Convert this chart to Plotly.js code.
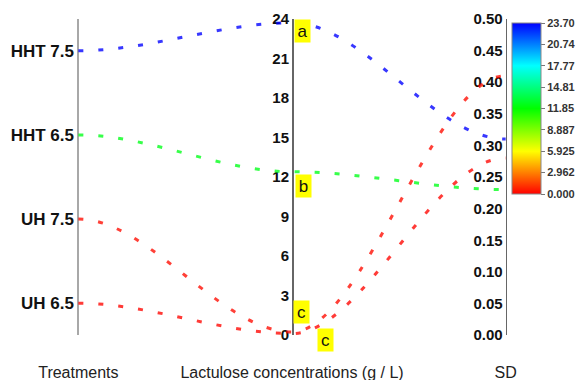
<!DOCTYPE html>
<html>
<head>
<meta charset="utf-8">
<script src="https://cdn.plot.ly/plotly-3.0.1.min.js"></script>
<style>html,body{margin:0;padding:0;background:#fff}#chart{width:584px;height:380px}</style>
</head>
<body>
<div id="chart"></div>
<script>
// ---- data ----
const dimensions = ['Treatments', 'Lactulose concentrations (g / L)', 'SD'];
const treatments = ['HHT 7.5', 'HHT 6.5', 'UH 7.5', 'UH 6.5'];
const lactulose = [23.70, 12.40, 0.25, 0.12];
const sd = [0.31, 0.23, 0.41, 0.28];
const sigLetters = ['a', 'b', 'c', 'c'];
const treatmentOrder = ['UH 6.5', 'UH 7.5', 'HHT 6.5', 'HHT 7.5'];
const lactuloseTicks = [0, 3, 6, 9, 12, 15, 18, 21, 24];
const sdTicks = [0, 0.05, 0.10, 0.15, 0.20, 0.25, 0.30, 0.35, 0.40, 0.45, 0.50];
const colorbarTicks = [0, 2.962, 5.925, 8.887, 11.85, 14.81, 17.77, 20.74, 23.70];
const colorbarTickText = ['0.000', '2.962', '5.925', '8.887', '11.85', '14.81', '17.77', '20.74', '23.70'];

// ---- styles / layout ----
const FONT = 'Liberation Sans, Arial, sans-serif';
const TREAT_RANGE = [-0.38, 3.38];
const LAC_RANGE = [0, 24];
const SD_RANGE = [0, 0.5];
const NORM_RANGE = [-0.05, 1.05];
const X_RANGE = [-0.1, 2.1];
const AX_DOMAIN = [(0 - NORM_RANGE[0]) / (NORM_RANGE[1] - NORM_RANGE[0]), (1 - NORM_RANGE[0]) / (NORM_RANGE[1] - NORM_RANGE[0])];
const axPos = i => (i - X_RANGE[0]) / (X_RANGE[1] - X_RANGE[0]);
const CMAX = 23.70;
const CURVE_K = 1 / 3;
const jet = [[0, '#ff0000'], [0.125, '#ff8000'], [0.25, '#ffff00'], [0.375, '#80ff00'], [0.5, '#00ff00'],
             [0.625, '#00ff80'], [0.75, '#00ffff'], [0.875, '#0080ff'], [1, '#0000ff']];
const letterShift = [[10, -8], [11, -14], [9, 20], [33, -6]];

function norm(v, r) { return (v - r[0]) / (r[1] - r[0]); }
function hex2rgb(h) { return [1, 3, 5].map(i => parseInt(h.substr(i, 2), 16)); }
function jetColor(v) {
  const t = Math.max(0, Math.min(1, v / CMAX));
  for (let i = 1; i < jet.length; i++) {
    if (t <= jet[i][0]) {
      const f = (t - jet[i - 1][0]) / (jet[i][0] - jet[i - 1][0]);
      const a = hex2rgb(jet[i - 1][1]), b = hex2rgb(jet[i][1]);
      const c = a.map((x, k) => Math.round(x + (b[k] - x) * f));
      return 'rgb(' + c.join(',') + ')';
    }
  }
  return jet[jet.length - 1][1];
}

const traces = [];
// data points on each parallel axis (invisible markers; they also carry the colour scale)
traces.push({ type: 'scatter', mode: 'markers', x: treatments.map(() => 0), y: treatments, yaxis: 'y2',
  marker: { size: 1, opacity: 0 }, hoverinfo: 'skip', showlegend: false });
traces.push({ type: 'scatter', mode: 'markers', x: lactulose.map(() => 1), y: lactulose, yaxis: 'y3',
  marker: { size: 1, opacity: 0, color: lactulose, cmin: 0, cmax: CMAX, colorscale: jet, showscale: true,
    colorbar: { x: (512 - 57) / 470, xanchor: 'left', xpad: 0, y: (351 - 23) / 348, yanchor: 'top', ypad: 0,
      len: 171, lenmode: 'pixels', thickness: 29, thicknessmode: 'pixels',
      outlinewidth: 1, outlinecolor: '#888', ticks: 'outside', ticklen: 4, tickcolor: '#777',
      tickvals: colorbarTicks, ticktext: colorbarTickText,
      tickfont: { family: FONT, size: 11, weight: 'bold', color: '#333' } } },
  hoverinfo: 'skip', showlegend: false });
traces.push({ type: 'scatter', mode: 'markers', x: sd.map(() => 2), y: sd, yaxis: 'y4',
  marker: { size: 1, opacity: 0 }, hoverinfo: 'skip', showlegend: false });

// profile curves: smooth connectors between the axes, in the plot's data coordinates
const shapes = treatments.map((t, i) => {
  const ys = [norm(treatmentOrder.indexOf(t), TREAT_RANGE), norm(lactulose[i], LAC_RANGE), norm(sd[i], SD_RANGE)];
  let d = 'M 0,' + ys[0];
  for (let k = 1; k < ys.length; k++) {
    d += ' C ' + (k - 1 + CURVE_K) + ',' + ys[k - 1] + ' ' + (k - CURVE_K) + ',' + ys[k] + ' ' + k + ',' + ys[k];
  }
  return { type: 'path', path: d, xref: 'x', yref: 'y', layer: 'above', opacity: 0.78,
    line: { color: jetColor(lactulose[i]), width: 3, dash: '5px,15px' } };
});

const baseAxis = { anchor: 'free', domain: AX_DOMAIN, showgrid: false, zeroline: false, showline: true, fixedrange: true };

const layout = {
  width: 584, height: 380,
  margin: { l: 57, r: 57, t: 3, b: 29 },
  paper_bgcolor: '#fff', plot_bgcolor: 'rgba(0,0,0,0)',
  hovermode: false, showlegend: false,
  xaxis: { range: X_RANGE, showgrid: false, zeroline: false, showline: false, fixedrange: true,
    tickvals: [0, 1, 2], ticktext: dimensions, ticks: 'outside', ticklen: 7, tickcolor: 'rgba(0,0,0,0)',
    tickfont: { family: FONT, size: 16, color: '#222' } },
  yaxis: { range: NORM_RANGE, visible: false, fixedrange: true },
  yaxis2: Object.assign({}, baseAxis, { type: 'category', categoryorder: 'array', categoryarray: treatmentOrder,
    range: TREAT_RANGE, position: axPos(0), linecolor: '#a8a8a8', linewidth: 2, ticks: '',
    tickfont: { family: FONT, size: 17, weight: 'bold', color: '#111' } }),
  yaxis3: Object.assign({}, baseAxis, { range: LAC_RANGE, position: axPos(1), linecolor: '#666', linewidth: 1.5,
    tickvals: lactuloseTicks, ticks: '', tickfont: { family: FONT, size: 15, weight: 'bold', color: '#111' } }),
  yaxis4: Object.assign({}, baseAxis, { range: SD_RANGE, position: axPos(2), linecolor: '#666', linewidth: 1.5,
    tickvals: sdTicks, tickformat: '.2f', ticks: '', tickfont: { family: FONT, size: 15, weight: 'bold', color: '#111' } }),
  shapes: shapes,
  annotations: sigLetters.map((s, i) => ({
    text: s, xref: 'x', yref: 'y3', x: 1, y: lactulose[i], xshift: letterShift[i][0], yshift: letterShift[i][1],
    showarrow: false, bgcolor: '#ffff00', borderpad: 1, width: 13, height: 20,
    font: { family: FONT, size: 17, color: '#111' }
  }))
};

Plotly.newPlot('chart', traces, layout, { displayModeBar: false, staticPlot: true });
</script>
</body>
</html>
